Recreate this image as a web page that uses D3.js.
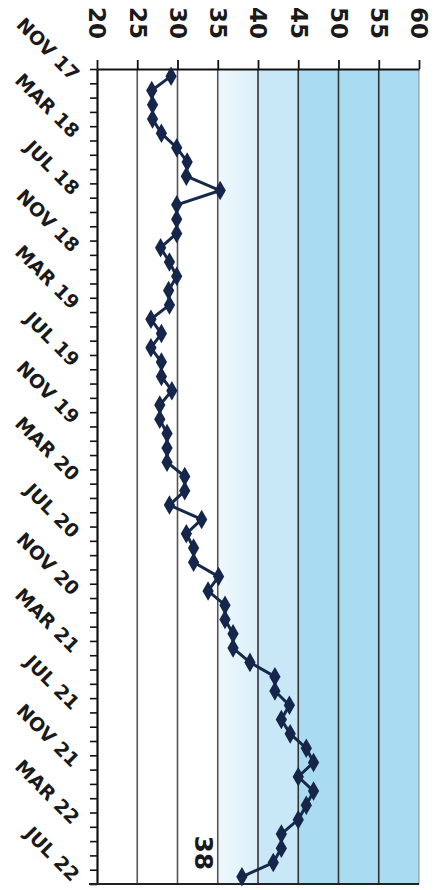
<!DOCTYPE html>
<html>
<head>
<meta charset="utf-8">
<script src="https://cdn.jsdelivr.net/npm/d3@7"></script>
<style>
  body { margin: 0; background: #fff; }
  text { font-family: "DejaVu Sans", "Liberation Sans", sans-serif; fill: #1a1a1a; }
</style>
</head>
<body>
<svg id="chart" width="443" height="890"></svg>
<script>
(function() {

  // monthly readings, Nov 2017 .. Jul 2022
  var values = [
    29.2, 26.8, 26.9, 26.9, 28.0, 29.9, 31.2, 31.1, 35.3, 29.9,
    29.9, 29.9, 27.9, 29.0, 29.9, 28.9, 29.0, 26.7, 28.0, 26.7,
    28.0, 28.0, 29.3, 27.8, 27.8, 28.7, 28.7, 28.7, 30.9, 30.9,
    29.0, 33.0, 31.1, 32.0, 32.0, 35.1, 33.8, 35.9, 35.9, 36.9,
    36.9, 39.0, 42.1, 42.1, 43.9, 42.9, 44.0, 46.0, 46.9, 45.0,
    46.9, 46.0, 45.0, 42.9, 42.9, 41.9, 38.0
  ];
  var months = d3.timeMonth.range(new Date(2017, 10, 1), new Date(2022, 7, 1));
  var dateLabels = ['NOV 17', 'MAR 18', 'JUL 18', 'NOV 18', 'MAR 19', 'JUL 19', 'NOV 19',
                    'MAR 20', 'JUL 20', 'NOV 20', 'MAR 21', 'JUL 21', 'NOV 21', 'MAR 22', 'JUL 22'];
  var valueTicks = [20, 25, 30, 35, 40, 45, 50, 55, 60];
  // shaded zones along the value axis
  var zones = [
    {from: 35, to: 40, fill: 'url(#fade)'},
    {from: 40, to: 45, fill: '#c8e8f7'},
    {from: 45, to: 60, fill: '#a9dbf2'}
  ];
  var lastLabel = '38';

  var svg = d3.select('#chart');
  var top = 69, bottom = 884, left = 97, right = 419;

  var x = d3.scaleLinear().domain([20, 60]).range([left, right]);
  var y = d3.scaleBand().domain(months).range([top, bottom]);
  var yIdx = d3.scaleLinear().domain([0, months.length]).range([top, bottom]);
  var yc = function(d) { return y(d) + y.bandwidth() / 2; };

  var grad = svg.append('defs').append('linearGradient')
    .attr('id', 'fade')
    .attr('x1', '0%').attr('x2', '100%').attr('y1', 0).attr('y2', 0);
  grad.append('stop').attr('offset', '0%').attr('stop-color', '#eef8fc');
  grad.append('stop').attr('offset', '100%').attr('stop-color', '#dbeff9');

  svg.selectAll('rect.zone')
    .data(zones)
    .enter().append('rect')
    .attr('class', 'zone')
    .attr('x', function(d) { return x(d.from); })
    .attr('y', top)
    .attr('width', function(d) { return x(d.to) - x(d.from); })
    .attr('height', bottom - top)
    .attr('fill', function(d) { return d.fill; });

  // vertical grid
  svg.selectAll('line.grid')
    .data(valueTicks.slice(1))
    .enter().append('line')
    .attr('class', 'grid')
    .attr('x1', function(d) { return x(d); })
    .attr('x2', function(d) { return x(d); })
    .attr('y1', top).attr('y2', bottom)
    .attr('stroke', function(d) { return d === 60 ? '#8a8a8a' : (d < 40 ? '#555' : '#333'); })
    .attr('stroke-width', function(d) { return d === 60 ? 1 : 1.6; });

  // top axis
  var xAxis = svg.append('g')
    .attr('transform', 'translate(0,' + top + ')')
    .call(d3.axisTop(x).tickValues(valueTicks).tickSize(9).tickSizeOuter(0));
  xAxis.select('.domain').attr('stroke', '#111').attr('stroke-width', 2);
  xAxis.selectAll('.tick line').attr('stroke', '#111').attr('stroke-width', 1.8);
  xAxis.selectAll('.tick text')
    .attr('transform', 'translate(0,-46) rotate(90)')
    .attr('x', 0).attr('y', 0).attr('dy', '0.35em')
    .attr('text-anchor', 'middle')
    .style('font-size', '23px')
    .style('font-weight', 'bold')
    .attr('fill', '#1a1a1a');

  // left axis, one tick per month boundary
  var yAxis = svg.append('g')
    .attr('transform', 'translate(' + left + ',0)')
    .call(d3.axisLeft(yIdx).tickValues(d3.range(0, months.length + 1)).tickFormat('').tickSize(7).tickSizeOuter(0));
  yAxis.select('.domain').attr('stroke', '#111').attr('stroke-width', 2.2);
  yAxis.selectAll('.tick line').attr('stroke', '#111').attr('stroke-width', 1.6);

  // bottom line
  svg.append('line')
    .attr('x1', left - 8).attr('x2', right)
    .attr('y1', bottom).attr('y2', bottom)
    .attr('stroke', '#222').attr('stroke-width', 2);

  // date labels every 4 months
  svg.selectAll('text.date')
    .data(dateLabels)
    .enter().append('text')
    .attr('class', 'date')
    .attr('transform', function(d, i) {
      return 'translate(76,' + (yc(months[i * 4]) + 1) + ') rotate(45)';
    })
    .attr('text-anchor', 'end')
    .attr('dy', '0.35em')
    .style('font-size', '19px')
    .style('font-weight', 'bold')
    .text(function(d) { return d; });

  // series
  var line = d3.line()
    .x(function(d) { return x(d); })
    .y(function(d, i) { return yc(months[i]); });

  svg.append('path')
    .datum(values)
    .attr('d', line)
    .attr('fill', 'none')
    .attr('stroke', '#17294a')
    .attr('stroke-width', 3)
    .attr('stroke-linejoin', 'round');

  svg.selectAll('path.pt')
    .data(values)
    .enter().append('path')
    .attr('class', 'pt')
    .attr('d', d3.symbol().type(d3.symbolDiamond).size(110))
    .attr('transform', function(d, i) {
      return 'translate(' + x(d) + ',' + yc(months[i]) + ')';
    })
    .attr('fill', '#15264a');

  // annotation of last value
  svg.append('text')
    .attr('transform', 'translate(' + x(33.2) + ',' + (yc(months[months.length - 1]) - 24) + ') rotate(90)')
    .attr('text-anchor', 'middle')
    .attr('dy', '0.35em')
    .style('font-size', '25px')
    .style('font-weight', 'bold')
    .attr('fill', '#111')
    .text(lastLabel);

})();
</script>
</body>
</html>
